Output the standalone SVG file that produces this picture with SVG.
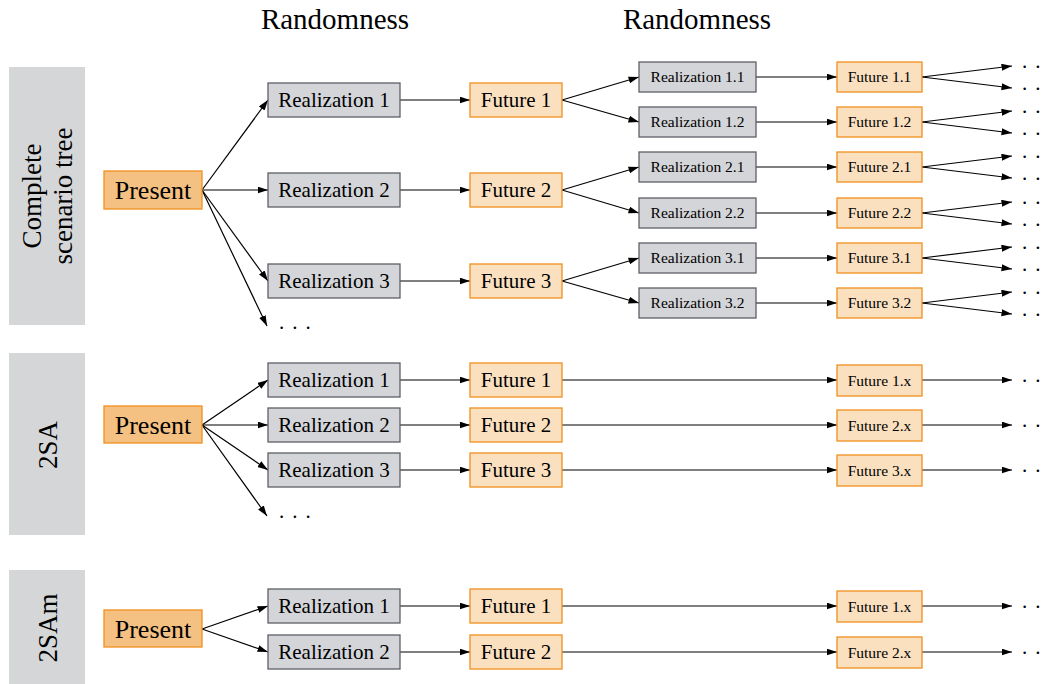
<svg xmlns="http://www.w3.org/2000/svg" width="1049" height="684" viewBox="0 0 1049 684">
<style>
text{font-family:"Liberation Serif","Times New Roman",serif;fill:#000}
.bar{fill:#d5d6d8}
.bt{font-size:27px;text-anchor:middle}
.hd{font-size:29px;text-anchor:middle}
.pr rect{fill:#f5c183;stroke:#f0901e;stroke-width:1.3}
.pr text{font-size:26px;text-anchor:middle}
.re rect{fill:#d4d5d8;stroke:#5d6066;stroke-width:1.3}
.re text{font-size:21px;text-anchor:middle}
.fu rect{fill:#fbe0c0;stroke:#f0901e;stroke-width:1.3}
.fu text{font-size:21px;text-anchor:middle}
.sm text{font-size:15.5px}
.dots{font-size:21px;letter-spacing:1.4px}
#connectors path{stroke:#000;stroke-width:1.2;fill:none;marker-end:url(#ah)}
</style>
<defs>
<marker id="ah" markerUnits="userSpaceOnUse" markerWidth="11" markerHeight="8" refX="10.5" refY="3.5" orient="auto"><path d="M0,0 L10.5,3.5 L0,7 z" fill="#000"/></marker>
</defs>
<rect width="1049" height="684" fill="#fff"/>
<text class="hd" x="335" y="29">Randomness</text>
<text class="hd" x="697" y="29">Randomness</text>
<g id="bar1"><rect class="bar" x="9" y="67" width="76" height="258"/>
<text class="bt" transform="translate(41,196) rotate(-90)">Complete</text>
<text class="bt" transform="translate(72,196) rotate(-90)">scenario tree</text></g>
<g id="bar2"><rect class="bar" x="9" y="353" width="76" height="182"/>
<text class="bt" transform="translate(57,445) rotate(-90)">2SA</text></g>
<g id="bar3"><rect class="bar" x="9" y="570" width="76" height="120"/>
<text class="bt" transform="translate(57,628) rotate(-90)">2SAm</text></g>

<g id="connectors">
<path d="M202,190 L268,100"/><path d="M202,190 L268,190"/><path d="M202,190 L268,281"/><path d="M202,190 L267,326"/>
<path d="M400,100 L470,100"/><path d="M400,190 L470,190"/><path d="M400,281 L470,281"/>
<path d="M562,100 L639,77"/><path d="M562,100 L639,122"/>
<path d="M562,190 L639,167"/><path d="M562,190 L639,213"/>
<path d="M562,281 L639,258"/><path d="M562,281 L639,303"/>
<path d="M756,77 L837,77"/><path d="M756,122 L837,122"/><path d="M756,167 L837,167"/><path d="M756,213 L837,213"/><path d="M756,258 L837,258"/><path d="M756,303 L837,303"/>
<path d="M922,77 L1012,66"/><path d="M922,77 L1012,88"/>
<path d="M922,122 L1012,111"/><path d="M922,122 L1012,133"/>
<path d="M922,167 L1012,156"/><path d="M922,167 L1012,178"/>
<path d="M922,213 L1012,202"/><path d="M922,213 L1012,224"/>
<path d="M922,258 L1012,247"/><path d="M922,258 L1012,269"/>
<path d="M922,303 L1012,292"/><path d="M922,303 L1012,314"/>
<path d="M202,425 L268,380"/><path d="M202,425 L268,425"/><path d="M202,425 L268,470"/><path d="M202,425 L267,516"/>
<path d="M400,380 L470,380"/><path d="M400,425 L470,425"/><path d="M400,470 L470,470"/>
<path d="M562,380 L837,380"/><path d="M562,425 L837,425"/><path d="M562,470 L837,470"/>
<path d="M922,380 L1012,380"/><path d="M922,425 L1012,425"/><path d="M922,470 L1012,470"/>
<path d="M202,629 L268,606"/><path d="M202,629 L268,652"/>
<path d="M400,606 L470,606"/><path d="M400,652 L470,652"/>
<path d="M562,606 L837,606"/><path d="M562,652 L837,652"/>
<path d="M922,606 L1012,606"/><path d="M922,652 L1012,652"/>
</g>

<g id="present1" class="pr"><rect x="104" y="171" width="98" height="38"/><text x="153" y="199">Present</text></g>
<g id="present2" class="pr"><rect x="104" y="406" width="98" height="37"/><text x="153" y="434">Present</text></g>
<g id="present3" class="pr"><rect x="104" y="610" width="98" height="37"/><text x="153" y="638">Present</text></g>

<g id="r1" class="re"><rect x="268" y="83" width="132" height="34"/><text x="334" y="107">Realization 1</text></g>
<g id="r2" class="re"><rect x="268" y="173" width="132" height="34"/><text x="334" y="197">Realization 2</text></g>
<g id="r3" class="re"><rect x="268" y="264" width="132" height="34"/><text x="334" y="288">Realization 3</text></g>
<g id="f1" class="fu"><rect x="470" y="83" width="92" height="34"/><text x="516" y="107">Future 1</text></g>
<g id="f2" class="fu"><rect x="470" y="173" width="92" height="34"/><text x="516" y="197">Future 2</text></g>
<g id="f3" class="fu"><rect x="470" y="264" width="92" height="34"/><text x="516" y="288">Future 3</text></g>

<g id="r11" class="re sm"><rect x="639" y="62" width="117" height="30"/><text x="697.5" y="82">Realization 1.1</text></g>
<g id="r12" class="re sm"><rect x="639" y="107" width="117" height="30"/><text x="697.5" y="127">Realization 1.2</text></g>
<g id="r21" class="re sm"><rect x="639" y="152" width="117" height="30"/><text x="697.5" y="172">Realization 2.1</text></g>
<g id="r22" class="re sm"><rect x="639" y="198" width="117" height="30"/><text x="697.5" y="218">Realization 2.2</text></g>
<g id="r31" class="re sm"><rect x="639" y="243" width="117" height="30"/><text x="697.5" y="263">Realization 3.1</text></g>
<g id="r32" class="re sm"><rect x="639" y="288" width="117" height="30"/><text x="697.5" y="308">Realization 3.2</text></g>
<g id="f11" class="fu sm"><rect x="837" y="62" width="85" height="30"/><text x="879.5" y="82">Future 1.1</text></g>
<g id="f12" class="fu sm"><rect x="837" y="107" width="85" height="30"/><text x="879.5" y="127">Future 1.2</text></g>
<g id="f21" class="fu sm"><rect x="837" y="152" width="85" height="30"/><text x="879.5" y="172">Future 2.1</text></g>
<g id="f22" class="fu sm"><rect x="837" y="198" width="85" height="30"/><text x="879.5" y="218">Future 2.2</text></g>
<g id="f31" class="fu sm"><rect x="837" y="243" width="85" height="30"/><text x="879.5" y="263">Future 3.1</text></g>
<g id="f32" class="fu sm"><rect x="837" y="288" width="85" height="30"/><text x="879.5" y="308">Future 3.2</text></g>

<g id="s2r1" class="re"><rect x="268" y="363" width="132" height="34"/><text x="334" y="387">Realization 1</text></g>
<g id="s2r2" class="re"><rect x="268" y="408" width="132" height="34"/><text x="334" y="432">Realization 2</text></g>
<g id="s2r3" class="re"><rect x="268" y="453" width="132" height="34"/><text x="334" y="477">Realization 3</text></g>
<g id="s2f1" class="fu"><rect x="470" y="363" width="92" height="34"/><text x="516" y="387">Future 1</text></g>
<g id="s2f2" class="fu"><rect x="470" y="408" width="92" height="34"/><text x="516" y="432">Future 2</text></g>
<g id="s2f3" class="fu"><rect x="470" y="453" width="92" height="34"/><text x="516" y="477">Future 3</text></g>
<g id="s2f1x" class="fu sm"><rect x="837" y="365" width="85" height="31"/><text x="879.5" y="385.5">Future 1.x</text></g>
<g id="s2f2x" class="fu sm"><rect x="837" y="410" width="85" height="31"/><text x="879.5" y="430.5">Future 2.x</text></g>
<g id="s2f3x" class="fu sm"><rect x="837" y="455" width="85" height="31"/><text x="879.5" y="475.5">Future 3.x</text></g>

<g id="s3r1" class="re"><rect x="268" y="589" width="132" height="34"/><text x="334" y="613">Realization 1</text></g>
<g id="s3r2" class="re"><rect x="268" y="635" width="132" height="34"/><text x="334" y="659">Realization 2</text></g>
<g id="s3f1" class="fu"><rect x="470" y="589" width="92" height="34"/><text x="516" y="613">Future 1</text></g>
<g id="s3f2" class="fu"><rect x="470" y="635" width="92" height="34"/><text x="516" y="659">Future 2</text></g>
<g id="s3f1x" class="fu sm"><rect x="837" y="591" width="85" height="31"/><text x="879.5" y="611.5">Future 1.x</text></g>
<g id="s3f2x" class="fu sm"><rect x="837" y="637" width="85" height="31"/><text x="879.5" y="657.5">Future 2.x</text></g>

<g id="dots">
<text class="dots" x="279" y="329">. . .</text>
<text class="dots" x="279" y="518">. . .</text>
<text class="dots" x="1022" y="68">. .</text>
<text class="dots" x="1022" y="90">. .</text>
<text class="dots" x="1022" y="113">. .</text>
<text class="dots" x="1022" y="135">. .</text>
<text class="dots" x="1022" y="158">. .</text>
<text class="dots" x="1022" y="180">. .</text>
<text class="dots" x="1022" y="204">. .</text>
<text class="dots" x="1022" y="226">. .</text>
<text class="dots" x="1022" y="249">. .</text>
<text class="dots" x="1022" y="271">. .</text>
<text class="dots" x="1022" y="294">. .</text>
<text class="dots" x="1022" y="316">. .</text>
<text class="dots" x="1022" y="382">. .</text>
<text class="dots" x="1022" y="427">. .</text>
<text class="dots" x="1022" y="472">. .</text>
<text class="dots" x="1022" y="608">. .</text>
<text class="dots" x="1022" y="654">. .</text>
</g>
</svg>
